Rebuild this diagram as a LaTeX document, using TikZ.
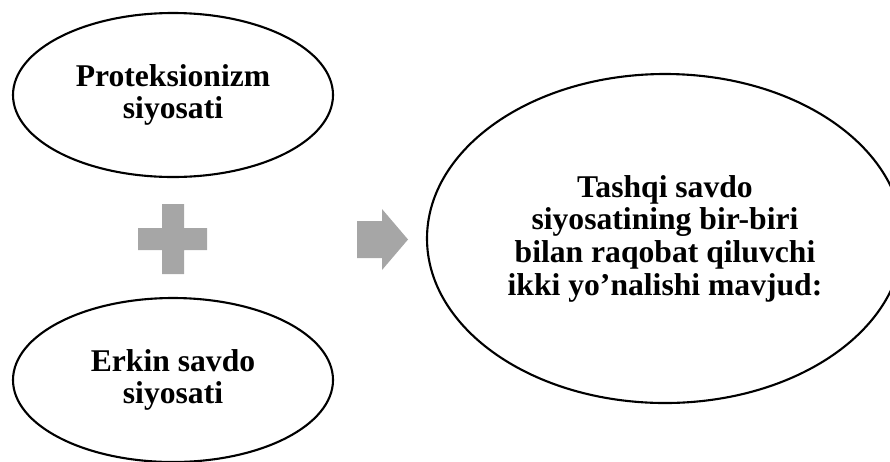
\documentclass[tikz,border=0pt]{standalone}
\usepackage{fontspec}
\setmainfont{Liberation Serif}
\usepackage{tikz}
\usetikzlibrary{shapes.geometric}
\definecolor{shapegray}{RGB}{166,166,166}
\tikzset{
  oval/.style={ellipse,draw,line width=0.6pt,inner sep=0pt,align=center,
    font=\bfseries\fontsize{9}{9.3}\selectfont},
  small oval/.style={oval,minimum width=3.2cm,minimum height=1.64cm},
  badge/.style={fill=shapegray,draw=none}
}

\begin{document}
\begin{tikzpicture}
  \useasboundingbox (0,0) rectangle (8.9,4.61);
  \clip (0,0) rectangle (8.9,4.61);
  \node[small oval] (protect) at (1.73,3.66) {Proteksionizm\\siyosati};
  \node[small oval] (free) at (1.73,0.81) {Erkin savdo\\siyosati};
  \node[oval,minimum width=4.76cm,minimum height=3.29cm] (trade) at (6.65,2.225)
    {Tashqi savdo\\siyosatining bir-biri\\bilan raqobat qiluvchi\\ikki yo’nalishi mavjud:};
  \fill[badge] (1.62,2.57) rectangle (1.84,1.87) (1.38,2.33) rectangle (2.07,2.11);
  \fill[badge] (3.57,2.40) -- (3.82,2.40) -- (3.82,2.52) -- (4.08,2.215)
    -- (3.82,1.91) -- (3.82,2.03) -- (3.57,2.03) -- cycle;
\end{tikzpicture}
\end{document}
